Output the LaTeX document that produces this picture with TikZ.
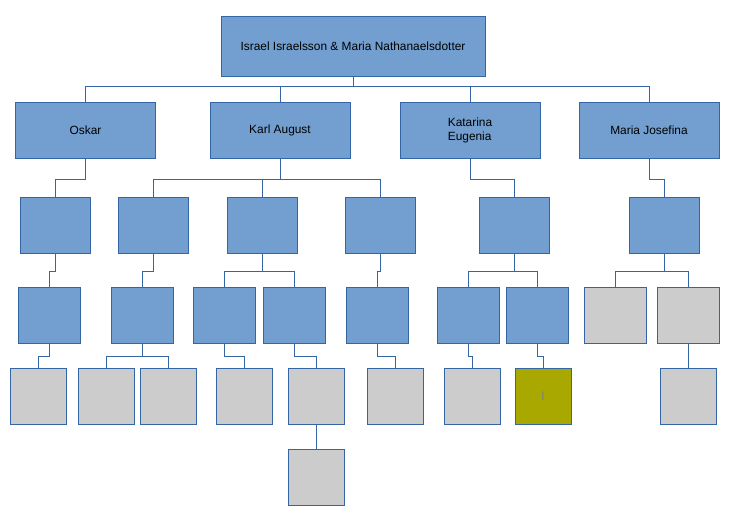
\documentclass[tikz,border=0pt]{standalone}
\usepackage{fontspec}
\setmainfont{Liberation Sans}
\usepackage{tikz}
\usetikzlibrary{positioning}
\definecolor{boxblue}{HTML}{729FCF}
\definecolor{edgeblue}{HTML}{3465A4}
\definecolor{leafgrey}{HTML}{CCCCCC}
\definecolor{leafolive}{HTML}{A8A800}
\definecolor{caretblue}{HTML}{5A6FD0}

\begin{document}
\begin{tikzpicture}[x=1pt, y=-1pt,
        box/.style={draw=edgeblue, line width=1pt, fill=boxblue, inner sep=0pt,
                    align=left, font=\fontsize{11.9}{13.4}\selectfont},
        couple/.style={box, minimum width=264pt, minimum height=60pt},
        child/.style={box, minimum width=140pt, minimum height=56pt},
        grand/.style={box, minimum width=70pt, minimum height=56pt},
        great/.style={box, minimum width=62pt, minimum height=56pt},
        leaf/.style={box, fill=leafgrey, minimum width=56pt, minimum height=56pt},
        link/.style={edgeblue, line width=1pt}
    ]
        \useasboundingbox (0,0) rectangle (736,520);
        % parents and children
        \node[couple] (root) at (353,46) {Israel Israelsson \& Maria Nathanaelsdotter};
        \node[child] (oskar) at (85.5,130.5) {Oskar};
        \node[child] (karl) at (280,130.5) {Karl August};
        \node[child] (katarina) at (470,130.5) {Katarina\\Eugenia};
        \node[child] (josefina) at (649,130.5) {Maria Josefina};
        % grandchildren
        \node[grand] (o1) at (55,225.5) {};
        \node[grand] (k1) at (153,225.5) {};
        \node[grand] (k2) at (262,225.5) {};
        \node[grand] (k3) at (380,225.5) {};
        \node[grand] (e1) at (514,225.5) {};
        \node[grand] (j1) at (664,225.5) {};
        % third generation
        \node[great] (o2) at (49.5,315) {};
        \node[great] (k11) at (142,315) {};
        \node[great] (k21) at (224,315) {};
        \node[great] (k22) at (294,315) {};
        \node[great] (k31) at (377,315) {};
        \node[great] (e11) at (468,315) {};
        \node[great] (e12) at (537,315) {};
        \node[great, fill=leafgrey] (j11) at (615,315) {};
        \node[great, fill=leafgrey] (j12) at (688,315) {};
        % fourth and fifth generation
        \node[leaf] (o3) at (38.5,396) {};
        \node[leaf] (k111) at (106,396) {};
        \node[leaf] (k112) at (168,396) {};
        \node[leaf] (k211) at (244,396) {};
        \node[leaf] (k221) at (316,396) {};
        \node[leaf] (k311) at (395,396) {};
        \node[leaf] (e111) at (472,396) {};
        \node[leaf, fill=leafolive, font=\fontsize{9}{9}\selectfont\color{caretblue}] (e121) at (543,396) {|};
        \node[leaf] (j121) at (688,396) {};
        \node[leaf] (k2211) at (316,477) {};
        % connectors
        \draw[link] (root.south) -- ++(0,10) -| (oskar.north);
        \draw[link] (root.south) -- ++(0,10) -| (karl.north);
        \draw[link] (root.south) -- ++(0,10) -| (katarina.north);
        \draw[link] (root.south) -- ++(0,10) -| (josefina.north);
        \draw[link] (oskar.south) -- ++(0,20) -| (o1.north);
        \draw[link] (karl.south) -- ++(0,20) -| (k1.north);
        \draw[link] (karl.south) -- ++(0,20) -| (k2.north);
        \draw[link] (karl.south) -- ++(0,20) -| (k3.north);
        \draw[link] (katarina.south) -- ++(0,20) -| (e1.north);
        \draw[link] (josefina.south) -- ++(0,20) -| (j1.north);
        \draw[link] (o1.south) -- ++(0,17) -| (o2.north);
        \draw[link] (k1.south) -- ++(0,17) -| (k11.north);
        \draw[link] (k2.south) -- ++(0,17) -| (k21.north);
        \draw[link] (k2.south) -- ++(0,17) -| (k22.north);
        \draw[link] (k3.south) -- ++(0,17) -| (k31.north);
        \draw[link] (e1.south) -- ++(0,17) -| (e11.north);
        \draw[link] (e1.south) -- ++(0,17) -| (e12.north);
        \draw[link] (j1.south) -- ++(0,17) -| (j11.north);
        \draw[link] (j1.south) -- ++(0,17) -| (j12.north);
        \draw[link] (o2.south) -- ++(0,13) -| (o3.north);
        \draw[link] (k11.south) -- ++(0,13) -| (k111.north);
        \draw[link] (k11.south) -- ++(0,13) -| (k112.north);
        \draw[link] (k21.south) -- ++(0,13) -| (k211.north);
        \draw[link] (k22.south) -- ++(0,13) -| (k221.north);
        \draw[link] (k31.south) -- ++(0,13) -| (k311.north);
        \draw[link] (e11.south) -- ++(0,13) -| (e111.north);
        \draw[link] (e12.south) -- ++(0,13) -| (e121.north);
        \draw[link] (j12.south) -- (j121.north);
        \draw[link] (k221.south) -- (k2211.north);
    \end{tikzpicture}
\end{document}
